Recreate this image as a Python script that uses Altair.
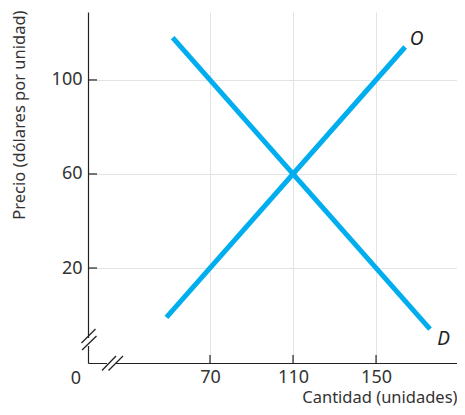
import altair as alt
import pandas as pd

# Data
supply_q = [49, 164]
supply_p = [-1, 114]
demand_q = [52, 176]
demand_p = [118, -6]
x_ticks = [70, 110, 150]
y_ticks = [20, 60, 100]
curve_labels = ["O", "D"]
label_q = [169.5, 182.5]
label_p = [117.5, -10]

FONT = "Noto Sans"
BLUE = "#00AEEF"
W, H = 369, 351
XD = [11.2, 189.0]
YD = [-20.4, 128.9]

lines = pd.DataFrame({
    "q": supply_q + demand_q,
    "p": supply_p + demand_p,
    "curve": ["O", "O", "D", "D"],
})
labels = pd.DataFrame({"t": curve_labels, "q": label_q, "p": label_p})

xs = alt.Scale(domain=XD, nice=False, zero=False)
ys = alt.Scale(domain=YD, nice=False, zero=False)

base_axis = dict(
    ticks=False, domain=True, domainColor="#222", domainWidth=1.2,
    grid=True, gridColor="#e3e3e3", gridWidth=1,
    labelFont=FONT, labelFontSize=18, labelColor="#333",
    titleFont=FONT, titleFontSize=16.5, titleColor="#333", titleFontWeight="normal",
)

line_layer = alt.Chart(lines).mark_line(color=BLUE, strokeWidth=5, strokeCap="butt").encode(
    x=alt.X("q:Q", scale=xs, axis=alt.Axis(values=x_ticks, title="Cantidad (unidades)",
                                            labelPadding=5, titleAnchor="end", titleY=39,
                                            titleX=W,
                                            titleAlign="right", titleBaseline="alphabetic", **base_axis)),
    y=alt.Y("p:Q", scale=ys, axis=alt.Axis(values=y_ticks, title="Precio (dólares por unidad)",
                                            labelPadding=6, titleAnchor="end", titleAngle=-90,
                                            titleX=-64, titleY=-2, titleAlign="right",
                                            titleBaseline="alphabetic", **base_axis)),
    detail="curve:N",
)

# inward ticks
xt = alt.Chart(pd.DataFrame({"v": x_ticks})).mark_rule(color="#222", strokeWidth=1.2).encode(
    x=alt.X("v:Q", scale=xs), y=alt.value(H), y2=alt.value(H - 8))
yt = alt.Chart(pd.DataFrame({"v": y_ticks})).mark_rule(color="#222", strokeWidth=1.2).encode(
    y=alt.Y("v:Q", scale=ys), x=alt.value(0), x2=alt.value(9))

text_layer = alt.Chart(labels).mark_text(font=FONT, fontSize=19, fontStyle="italic",
                                         color="#222", align="center", baseline="middle").encode(
    x=alt.X("q:Q", scale=xs), y=alt.Y("p:Q", scale=ys), text="t:N")

zero = alt.Chart(pd.DataFrame({"t": ["0"]})).mark_text(font=FONT, fontSize=18, color="#333",
                                                       baseline="middle").encode(
    x=alt.value(-12), y=alt.value(H + 16), text="t:N")

# axis break marks
gap_y = alt.Chart(pd.DataFrame({"a": [0]})).mark_rule(color="white", strokeWidth=4).encode(
    x=alt.value(0), y=alt.value(H - 25), y2=alt.value(H - 17))
gap_x = alt.Chart(pd.DataFrame({"a": [0]})).mark_rule(color="white", strokeWidth=4).encode(
    y=alt.value(H), x=alt.value(19), x2=alt.value(27))
breaks = pd.DataFrame({
    "x1": [-6.5, -6, 14, 20.5],
    "y1": [H - 20, H - 13, H + 7.5, H + 7.5],
    "x2": [7.5, 8.5, 28, 35],
    "y2": [H - 34, H - 27, H - 7, H - 7],
})
brk = alt.Chart(breaks).mark_rule(color="#222", strokeWidth=1.3).encode(
    x=alt.X("x1:Q", scale=None), y=alt.Y("y1:Q", scale=None),
    x2="x2:Q", y2="y2:Q")

chart = alt.layer(line_layer, xt, yt, text_layer, zero, gap_y, gap_x, brk).properties(
    width=W, height=H,
    autosize=alt.AutoSizeParams(type="none"),
    padding={"left": 80, "top": 4, "right": 0, "bottom": 44},
).configure_view(stroke=None)

chart.save("out.html", embed_options={"renderer": "svg", "actions": False})
